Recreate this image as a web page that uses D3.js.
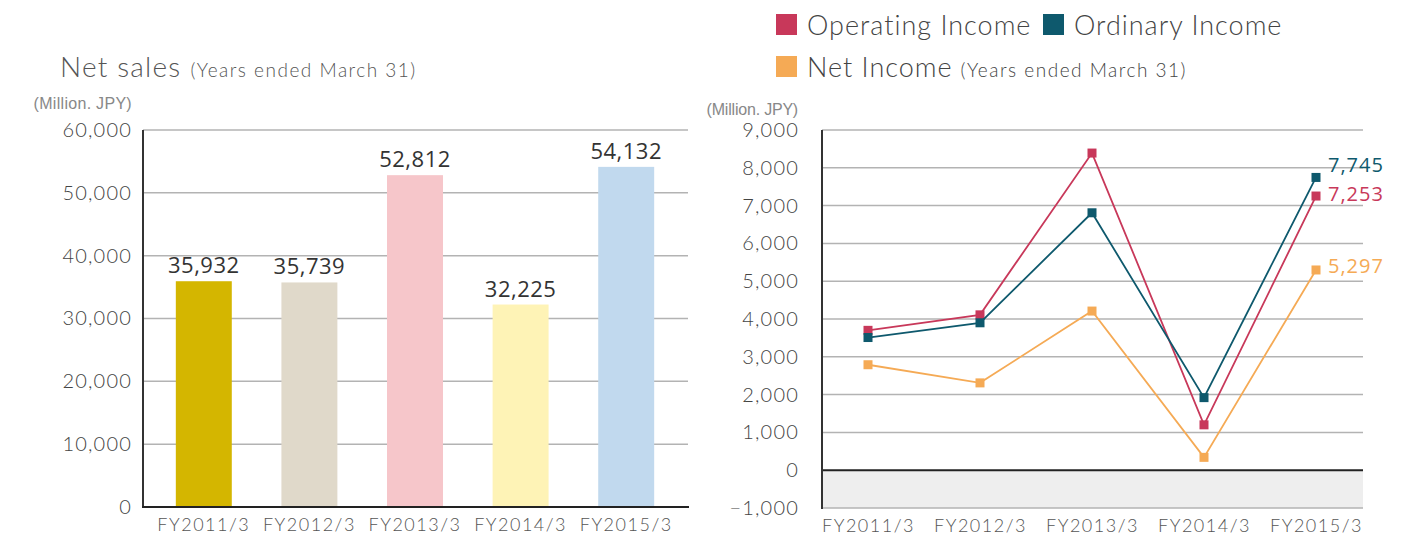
<!DOCTYPE html>
<html>
<head>
<meta charset="utf-8">
<script src="https://cdn.jsdelivr.net/npm/d3@7"></script>
<style>
  body { margin: 0; background: #fff; }
  text { font-family: Lato, "Open Sans", sans-serif; }
</style>
</head>
<body>
<svg id="chart" width="1420" height="549"></svg>
<script>
// data
var years = ["FY2011/3", "FY2012/3", "FY2013/3", "FY2014/3", "FY2015/3"];
var netSales = [35932, 35739, 52812, 32225, 54132];
var barColors = ["#d4b600", "#e0d9ca", "#f6c6ca", "#fef3b6", "#c1d9ee"];
var salesTicks = [0, 10000, 20000, 30000, 40000, 50000, 60000];

var operatingIncome = [3700, 4110, 8390, 1200, 7253];
var ordinaryIncome = [3510, 3900, 6810, 1920, 7745];
var netIncome = [2790, 2310, 4210, 340, 5297];
var incomeTicks = [-1000, 0, 1000, 2000, 3000, 4000, 5000, 6000, 7000, 8000, 9000];

var fmt = d3.format(",");
var svg = d3.select("#chart");

function styleTicks(sel) {
    sel.selectAll("text").attr("fill", "#444").style("font-size", "20px").style("font-weight", 300)
        .style("letter-spacing", "1.2px").style("font-family", "Lato, sans-serif");
}
function styleCats(sel) {
    sel.selectAll("text").attr("fill", "#555").style("font-size", "18px").style("font-weight", 300)
        .style("letter-spacing", "1.5px").style("font-family", "Lato, sans-serif");
}

// ---------- left chart: net sales ----------
var x1 = d3.scaleBand().domain(years).range([151, 679]).paddingInner(0.47).paddingOuter(0.235);
var y1 = d3.scaleLinear().domain([0, 60000]).range([507, 130]);

svg.append("text").attr("x", 60).attr("y", 77)
    .attr("fill", "#555").style("font-size", "28px").style("font-weight", 300).style("letter-spacing", "1.2px")
    .text("Net sales")
  .append("tspan").style("font-size", "19px").style("letter-spacing", "1.5px").attr("dx", 9).text("(Years ended March 31)");

svg.append("text").attr("x", 132).attr("y", 109).attr("text-anchor", "end")
    .attr("fill", "#888").style("font-size", "16px").style("font-family", "'Liberation Sans', Arial")
    .style("letter-spacing", "0.3px")
    .text("(Million. JPY)");

// gridlines
svg.append("g").selectAll("line").data(salesTicks.filter(d => d > 0)).enter().append("line")
    .attr("x1", 143).attr("x2", 688)
    .attr("y1", d => y1(d)).attr("y2", d => y1(d))
    .attr("stroke", "#b3b3b3").attr("stroke-width", 1.5);

var yAxis1 = svg.append("g").attr("transform", "translate(143,0)")
    .call(d3.axisLeft(y1).tickValues(salesTicks).tickFormat(fmt).tickSize(0).tickPadding(11));
yAxis1.select(".domain").remove();
styleTicks(yAxis1);

svg.append("g").selectAll("rect").data(netSales).enter().append("rect")
    .attr("x", (d, i) => x1(years[i]))
    .attr("width", x1.bandwidth())
    .attr("y", d => y1(d))
    .attr("height", d => y1(0) - y1(d))
    .attr("fill", (d, i) => barColors[i]);

svg.append("g").selectAll("text").data(netSales).enter().append("text")
    .attr("x", (d, i) => x1(years[i]) + x1.bandwidth() / 2)
    .attr("y", d => y1(d) - 8)
    .attr("text-anchor", "middle")
    .attr("fill", "#333").style("font-size", "22px").style("font-family", "'Open Sans', sans-serif")
    .style("letter-spacing", "0.5px")
    .text(d => fmt(d));

// axis lines
svg.append("line").attr("x1", 143).attr("x2", 143).attr("y1", 130).attr("y2", 508)
    .attr("stroke", "#333").attr("stroke-width", 2);
svg.append("line").attr("x1", 142).attr("x2", 689).attr("y1", y1(0)).attr("y2", y1(0))
    .attr("stroke", "#222").attr("stroke-width", 2);

var xAxis1 = svg.append("g").attr("transform", "translate(0,507)")
    .call(d3.axisBottom(x1).tickSize(0).tickPadding(11));
xAxis1.select(".domain").remove();
styleCats(xAxis1);

// ---------- right chart: income ----------
var x2 = d3.scalePoint().domain(years).range([868, 1316]);
var y2 = d3.scaleLinear().domain([-1000, 9000]).range([508, 130]);

// legend
var legend = [
  {name: "Operating Income", color: "#c8385a", x: 776, y: 14},
  {name: "Ordinary Income", color: "#0e596d", x: 1043, y: 14},
  {name: "Net Income", color: "#f5aa55", x: 776, y: 56}
];
legend.forEach(function (l) {
    svg.append("rect").attr("x", l.x).attr("y", l.y).attr("width", 21).attr("height", 21).attr("fill", l.color);
    var t = svg.append("text").attr("x", l.x + 31).attr("y", l.y + 21)
        .attr("fill", "#444").style("font-size", "27px").style("font-weight", 300)
        .style("letter-spacing", "1px").text(l.name);
    if (l.name === "Net Income") {
        t.append("tspan").style("font-size", "19px").style("letter-spacing", "1.5px").attr("dx", 8)
            .text("(Years ended March 31)");
    }
});

svg.append("text").attr("x", 798).attr("y", 115).attr("text-anchor", "end")
    .attr("fill", "#888").style("font-size", "16px").style("font-family", "'Liberation Sans', Arial")
    .style("letter-spacing", "-0.2px")
    .text("(Million. JPY)");

// negative area
svg.append("rect").attr("x", 822).attr("y", y2(0)).attr("width", 1363 - 822).attr("height", y2(-1000) - y2(0))
    .attr("fill", "#eeeeee");

svg.append("g").selectAll("line").data(incomeTicks.filter(d => d !== 0)).enter().append("line")
    .attr("x1", 822).attr("x2", 1363)
    .attr("y1", d => y2(d)).attr("y2", d => y2(d))
    .attr("stroke", "#b3b3b3").attr("stroke-width", 1.5);

var yAxis2 = svg.append("g").attr("transform", "translate(822,0)")
    .call(d3.axisLeft(y2).tickValues(incomeTicks).tickFormat(fmt).tickSize(0).tickPadding(23));
yAxis2.select(".domain").remove();
styleTicks(yAxis2);

svg.append("line").attr("x1", 822).attr("x2", 1363).attr("y1", y2(0)).attr("y2", y2(0))
    .attr("stroke", "#222").attr("stroke-width", 2);
svg.append("line").attr("x1", 822).attr("x2", 822).attr("y1", 130).attr("y2", 509)
    .attr("stroke", "#333").attr("stroke-width", 2);

var series = [
  {values: netIncome, color: "#f5aa55", labelDy: 3},
  {values: operatingIncome, color: "#c8385a", labelDy: 5},
  {values: ordinaryIncome, color: "#0e596d", labelDy: -5}
];

var line = d3.line().x((d, i) => x2(years[i])).y(d => y2(d));

series.forEach(function (s) {
    var g = svg.append("g");
    g.append("path").datum(s.values).attr("d", line)
        .attr("fill", "none").attr("stroke", s.color).attr("stroke-width", 1.8);
    g.selectAll("rect").data(s.values).enter().append("rect")
        .attr("x", (d, i) => x2(years[i]) - 4.5)
        .attr("y", d => y2(d) - 4.5)
        .attr("width", 9).attr("height", 9)
        .attr("fill", s.color);
    var last = s.values[s.values.length - 1];
    g.append("text").attr("x", x2(years[4]) + 12).attr("y", y2(last) + s.labelDy)
        .attr("fill", s.color).style("font-size", "20px").style("font-family", "'Open Sans', sans-serif")
        .style("letter-spacing", "1px")
        .text(fmt(last));
});

var xAxis2 = svg.append("g").attr("transform", "translate(0,508)")
    .call(d3.axisBottom(x2).tickSize(0).tickPadding(11));
xAxis2.select(".domain").remove();
styleCats(xAxis2);
</script>
</body>
</html>
